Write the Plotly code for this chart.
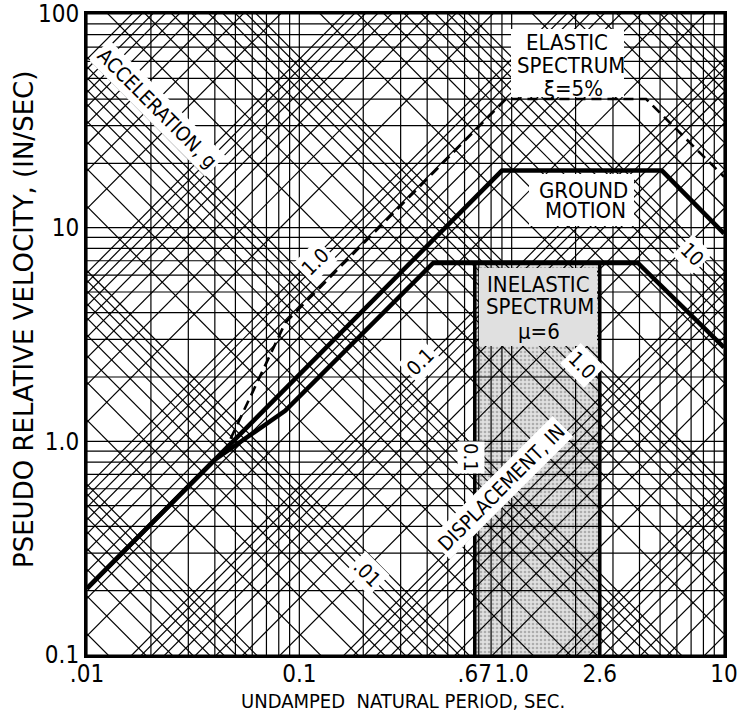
import numpy as np
import plotly.graph_objects as go

# ---------------- data ----------------
# tripartite grid values
decadesT = [0.01, 0.1, 1.0]
decadesV = [0.1, 1.0, 10.0]
grid_T = [m * d for d in decadesT for m in range(1, 10)] + [10.0]
grid_V = [m * d for d in decadesV for m in range(1, 10)] + [100.0]
decadesDA = [1e-4, 1e-3, 1e-2, 1e-1, 1.0, 10.0, 100.0]
grid_D = [m * d for d in decadesDA for m in range(1, 10)]   # displacement, in
grid_A = [m * d for d in decadesDA for m in range(1, 10)]   # acceleration, g
G_IN = 386.1  # in/s^2

# spectra (period s, pseudo velocity in/s)
ground_T = [0.01, 0.90, 5.1, 10.0]
ground_V = [0.205, 18.5, 18.5, 9.4]

elastic_T = [0.01, 0.045, 0.086, 0.94, 4.3, 10.0]
elastic_V = [0.205, 0.92, 3.6, 40.0, 40.0, 17.3]

inelastic_T = [0.01, 0.040, 0.0857, 0.427, 3.93, 10.0]
inelastic_V = [0.205, 0.82, 1.39, 6.84, 6.84, 2.75]

band_T = [0.67, 2.6]

x_ticks = [0.01, 0.1, 0.67, 1.0, 2.6, 10.0]
x_ticktext = [".01", "0.1", ".67", "1.0", "2.6", "10"]
y_ticks = [0.1, 1.0, 10.0, 100.0]
y_ticktext = ["0.1", "1.0", "10", "100"]

# ---------------- figure ----------------
T_MIN, T_MAX, V_MIN, V_MAX = 0.01, 10.0, 0.1, 100.0
FONT = "DejaVu Sans Condensed, DejaVu Sans, Liberation Sans, Arial, sans-serif"
FONT_WIDE = "DejaVu Sans, Liberation Sans, Arial, sans-serif"
BAND_BG = "#e0e0e0"

fig = go.Figure()

# shaded inelastic band
lt = np.log10(inelastic_T)
band_top = [float(10 ** np.interp(np.log10(t), lt, np.log10(inelastic_V))) for t in band_T]
fig.add_trace(go.Scatter(
    x=[band_T[0], band_T[0], band_T[1], band_T[1], band_T[0]],
    y=[V_MIN, band_top[0], band_top[1], V_MIN, V_MIN],
    fill="toself", mode="none",
    fillcolor="#dcdcdc",
    fillpattern=dict(shape=".", fgcolor="#7a7a7a", bgcolor=BAND_BG, size=4, solidity=0.35),
    hoverinfo="skip", showlegend=False))

# grid lines
gx, gy = [], []
for t in grid_T:
    gx += [t, t, None]; gy += [V_MIN, V_MAX, None]
for v in grid_V:
    gx += [T_MIN, T_MAX, None]; gy += [v, v, None]
for d in grid_D:
    gx += [T_MIN, T_MAX, None]; gy += [2 * np.pi * d / T_MIN, 2 * np.pi * d / T_MAX, None]
for a in grid_A:
    gx += [T_MIN, T_MAX, None]; gy += [a * G_IN * T_MIN / (2 * np.pi), a * G_IN * T_MAX / (2 * np.pi), None]
fig.add_trace(go.Scatter(x=gx, y=gy, mode="lines", line=dict(color="black", width=1.2),
                         hoverinfo="skip", showlegend=False))

# band edges
fig.add_trace(go.Scatter(x=[band_T[0], band_T[0], None, band_T[1], band_T[1]],
                         y=[V_MIN, band_top[0], None, V_MIN, band_top[1]],
                         mode="lines", line=dict(color="black", width=3.5),
                         hoverinfo="skip", showlegend=False))

# spectra
fig.add_trace(go.Scatter(x=elastic_T, y=elastic_V, mode="lines",
                         line=dict(color="black", width=2.6, dash="10px,6px"), showlegend=False))
fig.add_trace(go.Scatter(x=ground_T, y=ground_V, mode="lines",
                         line=dict(color="black", width=4.5), showlegend=False))
fig.add_trace(go.Scatter(x=inelastic_T, y=inelastic_V, mode="lines",
                         line=dict(color="black", width=4.5), showlegend=False))

# page geometry (page pixels; body margin removed by post_script)
PAGE_W, PAGE_H = 742, 723
L, R, TOP, B = 87, 724, 14, 655   # plot area in page pixels


def P(px, py):
    return (px - L) / (R - L), (B - py) / (B - TOP)


def box(x0, y0, x1, y1, color="white"):
    a0, b0 = P(x0, y1)
    a1, b1 = P(x1, y0)
    fig.add_shape(type="rect", xref="paper", yref="paper", x0=a0, y0=b0, x1=a1, y1=b1,
                  fillcolor=color, line=dict(width=0), layer="above")


def note(text, px, py, size=20, angle=0, bg=None, pad=1, family=FONT):
    x, y = P(px, py)
    fig.add_annotation(x=x, y=y, xref="paper", yref="paper", text=text, showarrow=False,
                       textangle=angle, font=dict(family=family, size=size, color="black"),
                       bgcolor=bg, borderpad=pad, xanchor="center", yanchor="middle")


# label backgrounds
box(511, 29, 624, 97)
box(529, 174, 634, 226)
box(479, 268, 597, 346, BAND_BG)

# label blocks
note("ELASTIC", 567, 42, 22, pad=0)
note("SPECTRUM", 571, 66, 22, pad=0)
note("\u03be=5%", 573, 88, 22, pad=0)
note("GROUND", 583, 190, 22, pad=0)
note("MOTION", 585, 211, 22, pad=0)
note("INELASTIC", 538, 284, 22, pad=0)
note("SPECTRUM", 540, 306, 22, pad=0)
note("\u03bc=6", 539, 331, 22, pad=0)

note("ACCELERATION, g", 157, 108, 20, angle=45, bg="white", pad=2)
note("1.0", 315, 262, 20, angle=-45, bg="white", pad=2)
note("0.1", 420, 362, 20, angle=-45, bg="white", pad=2)
note(".01", 367, 573, 20, angle=45, bg="white", pad=2)
note("DISPLACEMENT, IN", 501, 488, 20, angle=-45, bg="white", pad=2)
note("0.1", 471, 458, 20, angle=90, bg="white", pad=1)
note("1.0", 582, 365, 20, angle=45, bg="white", pad=2)
note("10", 692, 254, 20, angle=45, bg="white", pad=2)

# axis titles
note("UNDAMPED  NATURAL PERIOD, SEC.", 403, 701, 20)
note("PSEUDO RELATIVE VELOCITY, (IN/SEC)", 24, 320, 26, angle=-90, pad=0, family=FONT_WIDE)

axis_common = dict(type="log", showgrid=False, zeroline=False, showline=True, mirror=True,
                   linecolor="black", linewidth=3, ticks="", automargin=False,
                   ticklabeloverflow="allow",
                   tickfont=dict(family=FONT, size=24, color="black"))
fig.update_xaxes(range=[np.log10(T_MIN), np.log10(T_MAX)], tickvals=x_ticks, ticktext=x_ticktext,
                 ticklabelstandoff=-5, **axis_common)
fig.update_yaxes(range=[np.log10(V_MIN), np.log10(V_MAX)], tickvals=y_ticks, ticktext=y_ticktext,
                 **axis_common)

fig.update_layout(width=PAGE_W, height=PAGE_H,
                  margin=dict(l=L, r=PAGE_W - R, t=TOP, b=PAGE_H - B, autoexpand=False),
                  plot_bgcolor="white", paper_bgcolor="white", showlegend=False)

fig.write_html("out.html", config={"displayModeBar": False},
               post_script="document.body.style.margin='0px';")
